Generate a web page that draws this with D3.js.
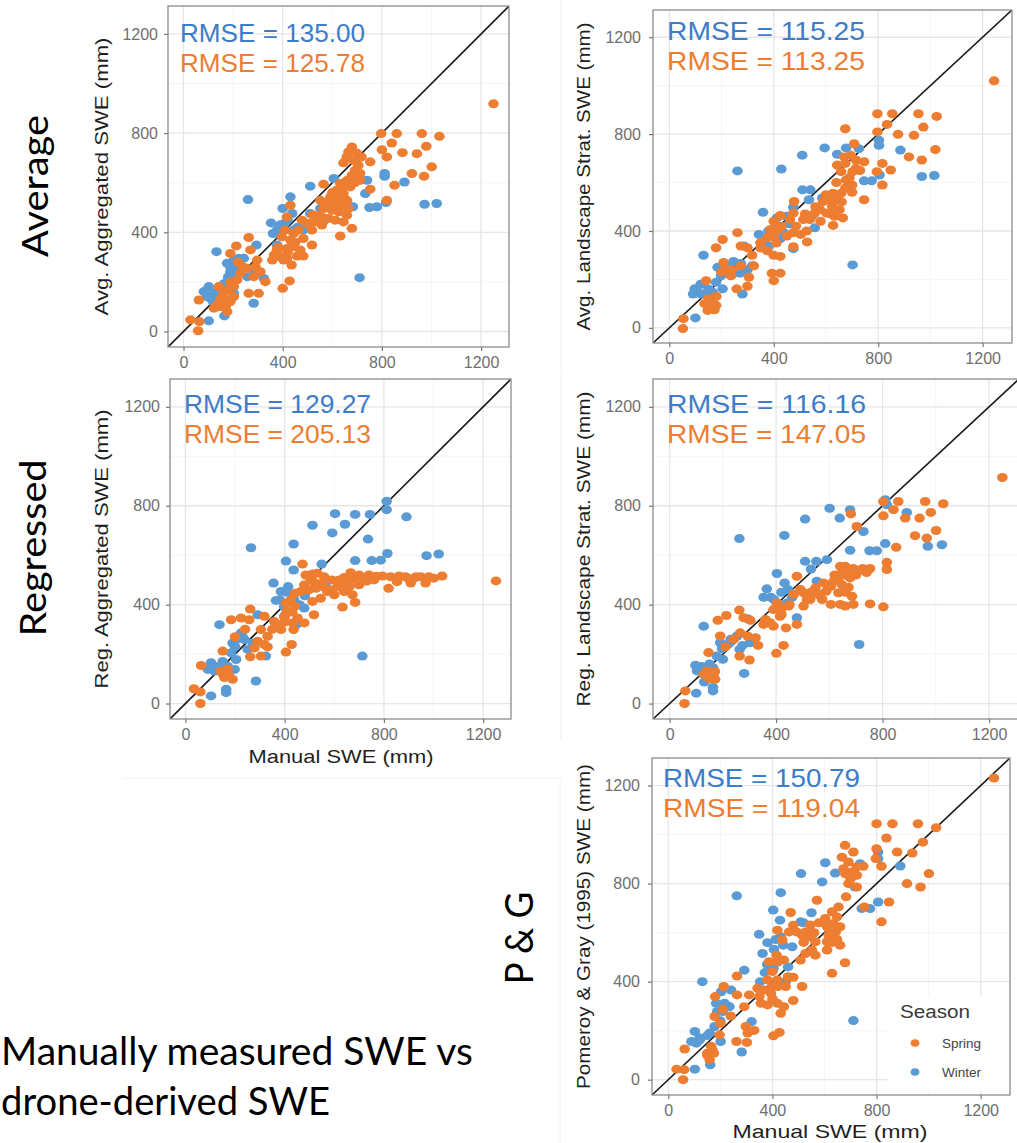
<!DOCTYPE html>
<html>
<head>
<meta charset="utf-8">
<script src="https://cdn.jsdelivr.net/npm/d3@7"></script>
<style>
  body { margin: 0; background: #fff; }
  svg { display: block; }
</style>
</head>
<body>
<svg id="chart"></svg>
<script>
// tick values shared by every panel
var majorTicks = [0, 400, 800, 1200];
var minorTicks = [200, 600, 1000];
var axisDomain = [-62.5, 1312.5];

// RMSE values per panel (Average agg., Average landscape, Regressed agg., Regressed landscape, P & G)
var rmseWinter = ["135.00", "115.25", "129.27", "116.16", "150.79"];
var rmseSpring = ["125.78", "113.25", "205.13", "147.05", "119.04"];

var seasons = ["Spring", "Winter"];

// [manual SWE, estimated SWE] pairs
var avgAggSpring = [[1250,918],[1032,787],[961,798],[860,798],[797,798],[840,760],[979,747],[800,733],[883,721],[941,717],[820,704],[753,684],[1001,664],[921,637],[970,626],[851,590],[753,574],[820,529],
  [679,744],[665,724],[698,720],[718,704],[658,704],[685,690],[645,680],[705,670],[692,650],[712,637],[679,630],[661,610],[712,610],[632,597],[672,583],
  [565,594],[618,570],[645,556],[592,543],[626,536],[659,529],[552,529],[585,516],[612,513],[639,509],[665,496],[565,496],[599,489],[626,483],[659,469],[545,469],[585,456],[612,449],[645,442],[532,442],[558,429],[498,436],[679,416],[632,385],
  [431,509],[417,462],[478,449],[505,436],[518,409],[464,409],[444,396],[410,409],[396,382],[431,369],[483,375],[518,349],[444,342],[417,335],[471,329],[458,304],[483,304],[377,329],[365,308],[390,302],[417,295],[436,268],[404,288],[358,288],
  [400,174],[428,204],
  [263,379],[213,345],[270,329],[297,288],[189,315],[263,154],[303,154],[330,201],[283,221],[310,241],[290,261],[230,235],[257,255],[216,208],[203,181],[176,168],[149,127],[189,121],[176,80],[149,101],[170,101],[136,107],[123,94],[203,141],
  [62,127],[28,47],[59,3],[64,40],[142,181],
  [600,560],[630,520],[570,520],[690,600],[650,600],[700,700],[560,460],[520,470],[600,500],[640,580],[450,360],[380,340],[420,320],[240,260],[220,280],[170,130],[190,200],[160,150]];
var avgAggWinter = [[710,217],[972,513],[1021,516],[891,603],[811,626],[811,637],[817,520],[780,503],[750,500],[740,610],[733,556],[683,503],[639,550],[606,617],[552,496],[511,586],[562,442],[511,476],[482,409],[431,543],[438,476],[400,496],[410,438],[444,409],[353,438],[377,409],[361,395],[377,349],[294,349],[260,532],[133,322],[176,275],[203,288],[189,261],[223,295],[243,295],[210,261],[189,241],[230,248],[257,221],[283,248],[324,214],[165,194],[203,154],[102,181],[123,154],[95,141],[109,134],[82,161],[129,121],[156,141],[283,114],[102,43],[165,63],[149,150],
  [180,220],[150,170],[200,230],[120,120],[220,270],[420,450],[460,420],[390,430]];

var avgLandSpring = [[1244,1020],[797,884],[854,884],[954,884],[1024,873],[834,840],[973,829],[674,822],[797,809],[876,799],[937,795],[708,760],[1019,736],[918,706],[967,693],[816,679],[848,652],[795,645],[816,590],[746,686],[746,529],[695,713],[670,706],[715,693],[674,679],[643,672],[658,645],[702,645],[715,659],[677,611],[700,590],[674,577],[658,556],[627,556],[645,529],[613,529],[624,502],[652,488],[633,461],[665,454],[627,423],[589,522],[577,488],[602,474],[557,474],[538,447],[579,440],[478,522],[475,474],[462,447],[513,447],[485,420],[526,400],[503,386],[475,393],[450,379],[475,335],[528,355],[425,464],[400,440],[387,406],[419,406],[400,376],[375,372],[349,352],[375,318],[400,300],[425,295],[393,226],[425,226],[400,195],[261,393],[204,365],[179,331],[274,338],[299,331],[317,300],[324,256],[305,209],[258,161],[299,172],[208,270],[236,215],[141,195],[160,106],[135,100],[179,93],[147,72],[173,75],[54,38],[52,-3],[217,243],[274,256],
  [690,620],[640,600],[600,550],[560,500],[660,520],[620,470],[520,470],[430,420],[410,350],[350,330],[240,240],[200,230],[180,130],[150,120],[700,560],[730,650]];
var avgLandWinter = [[702,260],[967,625],[1015,629],[885,734],[803,775],[803,754],[805,631],[775,607],[746,607],[726,740],[677,743],[643,717],[595,743],[509,713],[429,656],[261,648],[510,570],[540,570],[586,536],[557,413],[548,465],[535,529],[475,498],[450,461],[438,393],[475,327],[412,454],[359,477],[343,386],[381,338],[400,406],[425,368],[286,338],[246,274],[274,266],[317,256],[242,222],[271,226],[299,240],[185,250],[204,250],[198,215],[204,161],[179,188],[166,147],[131,300],[97,161],[110,147],[91,140],[122,140],[147,147],[158,79],[100,41],[280,140],
  [150,160],[120,180],[200,220],[230,260],[420,420],[460,430],[380,400]];

var regAggSpring = [[1252,496],[794,516],[827,513],[861,516],[887,513],[921,507],[948,513],[981,513],[1001,507],[1035,516],[819,466],[853,493],[968,487],[908,487],[747,513],[720,507],[700,516],[680,503],[666,529],[653,500],[635,487],[661,473],[613,473],[586,460],[640,453],[673,440],[552,487],[559,513],[532,527],[572,453],[545,426],[684,409],[633,390],[512,524],[472,564],[485,520],[506,500],[479,480],[526,466],[498,460],[465,453],[512,413],[441,446],[425,420],[405,406],[441,393],[408,373],[452,346],[479,326],[432,326],[518,359],[398,329],[371,319],[358,332],[436,299],[385,299],[428,239],[405,208],[261,382],[224,346],[184,339],[257,339],[318,353],[304,299],[331,272],[291,252],[318,239],[331,229],[278,225],[261,189],[304,192],[150,212],[174,114],[157,105],[190,98],[63,154],[34,60],[60,47],[60,0],[143,131],[700,480],[730,495],[760,500],[600,440],[620,500],
  [620,480],[640,510],[590,500],[700,520],[740,520],[770,515],[560,470],[520,490],[430,370],[400,350],[350,300],[240,300],[200,270],[170,140],[150,120],[930,513],[900,505]];
var regAggWinter = [[713,192],[1021,605],[972,598],[891,755],[811,818],[811,784],[814,607],[787,580],[751,578],[744,765],[736,665],[684,765],[684,578],[643,725],[603,768],[592,690],[512,721],[549,564],[565,487],[436,645],[405,576],[436,540],[355,487],[385,453],[414,473],[365,417],[398,393],[481,436],[438,420],[447,319],[398,353],[479,386],[291,359],[264,630],[137,319],[324,192],[224,286],[204,259],[190,245],[237,259],[251,219],[271,245],[184,205],[204,178],[198,138],[103,165],[117,131],[90,138],[130,145],[170,151],[284,91],[164,58],[164,44],[103,31],
  [150,170],[120,150],[200,230],[230,270],[410,450],[380,420],[460,400]];

var regLandSpring = [[1250,914],[803,817],[859,817],[960,817],[1028,808],[841,784],[981,773],[939,750],[885,750],[803,759],[681,767],[703,716],[922,679],[1001,700],[966,669],[851,632],[816,571],[816,542],[803,391],[753,546],[726,546],[690,546],[660,555],[641,555],[703,535],[672,535],[647,528],[678,508],[634,508],[616,495],[647,481],[606,474],[634,448],[672,470],[685,434],[578,488],[588,454],[548,468],[573,421],[606,401],[641,401],[660,394],[690,401],[753,403],[528,421],[503,448],[478,515],[491,461],[516,421],[503,394],[466,441],[447,394],[422,387],[403,407],[390,380],[415,353],[378,327],[353,320],[390,313],[437,306],[428,235],[401,203],[478,320],[262,378],[213,356],[181,337],[278,347],[303,337],[265,286],[293,273],[323,266],[332,235],[263,192],[300,176],[146,206],[190,273],[140,132],[165,118],[171,98],[128,118],[59,51],[56,0],
  [620,520],[660,520],[700,520],[720,540],[600,480],[560,440],[530,450],[450,400],[420,360],[360,340],[240,260],[210,230],[170,130],[150,100],[740,530],[660,450]];
var regLandWinter = [[712,239],[970,636],[1023,642],[891,773],[810,824],[816,804],[810,647],[778,618],[751,618],[728,696],[678,620],[678,784],[639,750],[601,790],[509,746],[431,680],[262,667],[509,575],[551,575],[591,582],[531,544],[553,495],[563,441],[478,347],[444,461],[432,488],[403,526],[365,464],[353,430],[392,421],[415,401],[441,407],[293,343],[253,273],[274,235],[302,246],[263,219],[225,246],[190,246],[197,222],[200,179],[177,192],[163,145],[128,313],[97,155],[115,139],[103,132],[130,87],[100,42],[163,65],[163,51],[280,122],
  [150,160],[120,150],[200,230],[230,260],[420,450],[380,430],[460,430]];

var pgSpring = [[1251,1231],[800,1044],[861,1044],[959,1044],[1029,1028],[838,986],[978,969],[879,929],[937,925],[800,942],[797,902],[819,871],[1001,841],[917,800],[969,786],[848,725],[819,644],[679,956],[667,908],[692,888],[711,929],[724,868],[705,847],[673,861],[724,834],[692,800],[724,786],[749,871],[753,705],[683,746],[654,705],[571,732],[679,477],[470,682],[629,685],[648,664],[603,658],[578,640],[546,631],[635,637],[610,624],[660,624],[643,603],[616,590],[648,572],[610,563],[660,549],[565,563],[540,583],[527,603],[493,603],[514,590],[610,529],[552,529],[565,508],[527,515],[508,488],[629,434],[480,630],[464,603],[419,610],[438,570],[416,508],[387,481],[419,481],[444,488],[400,441],[419,407],[451,380],[480,418],[514,380],[381,407],[400,380],[368,366],[394,353],[343,373],[356,312],[381,305],[419,312],[444,298],[480,323],[432,271],[404,179],[427,193],[311,346],[264,423],[213,380],[180,339],[210,287],[264,346],[292,298],[298,217],[305,190],[330,201],[262,156],[302,152],[178,258],[197,183],[165,136],[150,108],[175,108],[159,81],[63,125],[32,43],[61,41],[57,0],
  [620,600],[650,620],[600,640],[560,600],[700,820],[680,840],[520,560],[460,420],[420,380],[400,330],[350,340],[240,260],[200,230],[170,120],[150,100],[630,560]];
var pgWinter = [[711,241],[806,929],[806,902],[891,872],[806,725],[743,698],[775,698],[717,786],[737,881],[603,885],[591,807],[641,843],[510,841],[432,763],[263,750],[403,692],[429,651],[550,681],[508,644],[432,583],[413,572],[381,559],[349,593],[406,532],[362,515],[442,549],[476,542],[556,597],[451,400],[384,447],[371,437],[404,454],[353,400],[131,400],[292,447],[320,237],[282,113],[241,366],[203,359],[184,312],[216,312],[235,298],[209,278],[188,278],[178,217],[201,156],[159,190],[102,197],[89,156],[108,149],[121,163],[161,61],[102,43],
  [150,180],[120,170],[200,240],[230,300],[420,480],[380,470],[460,460],[520,640]];

var W = 1017, H = 1143;
var orange = "#ed7d31", blue = "#5b9bd5";
var orangeText = "#ed7d31", blueText = "#3d7cc9";
var chartFont = "'Liberation Sans', Arial, sans-serif";
var bigFont = "Lato, 'Open Sans', sans-serif";

var svg = d3.select("#chart").attr("width", W).attr("height", H);
svg.append("rect").attr("width", W).attr("height", H).attr("fill", "#fff");

// faint frames of the pasted sub-images
svg.append("line").attr("x1", 561).attr("x2", 561).attr("y1", 0).attr("y2", 370)
   .attr("stroke", "#eeeeee").attr("stroke-width", 1);
svg.append("line").attr("x1", 561).attr("x2", 561).attr("y1", 372).attr("y2", 740)
   .attr("stroke", "#eeeeee").attr("stroke-width", 1);
svg.append("line").attr("x1", 123).attr("x2", 562).attr("y1", 778).attr("y2", 778)
   .attr("stroke", "#f2f2f2").attr("stroke-width", 1);
svg.append("line").attr("x1", 560).attr("x2", 560).attr("y1", 780).attr("y2", H)
   .attr("stroke", "#f2f2f2").attr("stroke-width", 1);

var panels = [
  {x0: 168, x1: 509, y0: 6, y1: 347, spring: avgAggSpring, winter: avgAggWinter,
   ylab: "Avg. Aggregated SWE (mm)", ylabX: 108, ylabLen: 278, tickGap: 10,
   rmseX: 180, rmseY: 42, rmseLen: 185},
  {x0: 653, x1: 1012, y0: 10, y1: 343, spring: avgLandSpring, winter: avgLandWinter,
   ylab: "Avg. Landscape Strat. SWE (mm)", ylabX: 590, ylabLen: 308, tickGap: 12,
   rmseX: 667, rmseY: 40, rmseLen: 198},
  {x0: 170, x1: 511, y0: 379, y1: 719, spring: regAggSpring, winter: regAggWinter,
   ylab: "Reg. Aggregated SWE (mm)", ylabX: 108, ylabLen: 279, tickGap: 10,
   rmseX: 184, rmseY: 413, rmseLen: 187, xlab: {x: 341, y: 763, len: 185}},
  {x0: 653, x1: 1019, y0: 379, y1: 719, spring: regLandSpring, winter: regLandWinter,
   ylab: "Reg. Landscape Strat. SWE (mm)", ylabX: 590, ylabLen: 315, tickGap: 12,
   rmseX: 667, rmseY: 413, rmseLen: 199},
  {x0: 652, x1: 1010, y0: 758, y1: 1095, spring: pgSpring, winter: pgWinter,
   ylab: "Pomeroy & Gray (1995) SWE (mm)", ylabX: 590, ylabLen: 325, tickGap: 12,
   rmseX: 663, rmseY: 787, rmseLen: 197, xlab: {x: 830, y: 1138, len: 195}, legend: true}
];

panels.forEach(function(p, i) {
  var x = d3.scaleLinear().domain(axisDomain).range([p.x0, p.x1]);
  var y = d3.scaleLinear().domain(axisDomain).range([p.y1, p.y0]);
  var g = svg.append("g");
  var clipId = "clip" + i;
  g.append("clipPath").attr("id", clipId).append("rect")
    .attr("x", p.x0).attr("y", p.y0).attr("width", p.x1 - p.x0).attr("height", p.y1 - p.y0);

  // grid
  g.selectAll(".minx").data(minorTicks).enter().append("line")
    .attr("x1", function(d) { return x(d); }).attr("x2", function(d) { return x(d); })
    .attr("y1", p.y0).attr("y2", p.y1).attr("stroke", "#f2f2f2").attr("stroke-width", 0.8);
  g.selectAll(".miny").data(minorTicks).enter().append("line")
    .attr("y1", function(d) { return y(d); }).attr("y2", function(d) { return y(d); })
    .attr("x1", p.x0).attr("x2", p.x1).attr("stroke", "#f2f2f2").attr("stroke-width", 0.8);
  g.selectAll(".majx").data(majorTicks).enter().append("line")
    .attr("x1", function(d) { return x(d); }).attr("x2", function(d) { return x(d); })
    .attr("y1", p.y0).attr("y2", p.y1).attr("stroke", "#e6e6e6").attr("stroke-width", 1.3);
  g.selectAll(".majy").data(majorTicks).enter().append("line")
    .attr("y1", function(d) { return y(d); }).attr("y2", function(d) { return y(d); })
    .attr("x1", p.x0).attr("x2", p.x1).attr("stroke", "#e6e6e6").attr("stroke-width", 1.3);

  // legend box sits over the grid
  if (p.legend) {
    g.append("rect").attr("x", 888).attr("y", 995).attr("width", p.x1 - 889).attr("height", 96)
      .attr("fill", "#fff");
  }

  // 1:1 line
  g.append("line").attr("clip-path", "url(#" + clipId + ")")
    .attr("x1", x(axisDomain[0])).attr("y1", y(axisDomain[0]))
    .attr("x2", x(axisDomain[1])).attr("y2", y(axisDomain[1]))
    .attr("stroke", "#1a1a1a").attr("stroke-width", 1.6);

  // points
  var pts = g.append("g").attr("clip-path", "url(#" + clipId + ")");
  pts.selectAll(".w").data(p.winter).enter().append("ellipse")
    .attr("cx", function(d) { return x(d[0]); }).attr("cy", function(d) { return y(d[1]); })
    .attr("rx", 5.3).attr("ry", 4.5).attr("fill", blue);
  pts.selectAll(".s").data(p.spring).enter().append("ellipse")
    .attr("cx", function(d) { return x(d[0]); }).attr("cy", function(d) { return y(d[1]); })
    .attr("rx", 5.3).attr("ry", 4.5).attr("fill", orange);

  // border
  g.append("rect").attr("x", p.x0).attr("y", p.y0).attr("width", p.x1 - p.x0).attr("height", p.y1 - p.y0)
    .attr("fill", "none").attr("stroke", "#8c8c8c").attr("stroke-width", 1.3);

  // axes
  var yAxis = d3.axisLeft(y).tickValues(majorTicks).tickFormat(d3.format("d")).tickSize(4).tickPadding(p.tickGap - 4);
  var xAxis = d3.axisBottom(x).tickValues(majorTicks).tickFormat(d3.format("d")).tickSize(4).tickPadding(6);
  var ya = g.append("g").attr("transform", "translate(" + p.x0 + ",0)").call(yAxis);
  var xa = g.append("g").attr("transform", "translate(0," + p.y1 + ")").call(xAxis);
  [ya, xa].forEach(function(a) {
    a.select(".domain").remove();
    a.selectAll(".tick line").attr("stroke", "#777").attr("stroke-width", 1.2);
    a.selectAll(".tick text").attr("fill", "#6e6e6e").style("font-family", chartFont).style("font-size", "16px");
  });

  // y axis title
  g.append("text")
    .attr("transform", "translate(" + p.ylabX + "," + ((p.y0 + p.y1) / 2) + ") rotate(-90)")
    .attr("text-anchor", "middle").attr("textLength", p.ylabLen).attr("lengthAdjust", "spacingAndGlyphs")
    .style("font-family", chartFont).style("font-size", "19px").attr("fill", "#1f1f1f")
    .text(p.ylab);

  // x axis title
  if (p.xlab) {
    g.append("text").attr("x", p.xlab.x).attr("y", p.xlab.y).attr("text-anchor", "middle")
      .attr("textLength", p.xlab.len).attr("lengthAdjust", "spacingAndGlyphs")
      .style("font-family", chartFont).style("font-size", "19px").attr("fill", "#1f1f1f")
      .text("Manual SWE (mm)");
  }

  // RMSE annotations
  g.append("text").attr("x", p.rmseX).attr("y", p.rmseY)
    .attr("textLength", p.rmseLen).attr("lengthAdjust", "spacingAndGlyphs")
    .style("font-family", chartFont).style("font-size", "26px").attr("fill", blueText)
    .text("RMSE = " + rmseWinter[i]);
  g.append("text").attr("x", p.rmseX).attr("y", p.rmseY + 30)
    .attr("textLength", p.rmseLen).attr("lengthAdjust", "spacingAndGlyphs")
    .style("font-family", chartFont).style("font-size", "26px").attr("fill", orangeText)
    .text("RMSE = " + rmseSpring[i]);

  if (p.legend) {
    var lg = g.append("g");
    lg.append("text").attr("x", 900).attr("y", 1018).attr("textLength", 70).attr("lengthAdjust", "spacingAndGlyphs")
      .style("font-family", chartFont).style("font-size", "18px").attr("fill", "#3a3a3a").text("Season");
    var keyColor = d3.scaleOrdinal().domain(seasons).range([orange, blue]);
    lg.selectAll(".key").data(seasons).enter().append("ellipse")
      .attr("cx", 915).attr("cy", function(d, k) { return 1043 + k * 29; })
      .attr("rx", 4.4).attr("ry", 3.8).attr("fill", function(d) { return keyColor(d); });
    lg.selectAll(".keylab").data(seasons).enter().append("text")
      .attr("x", 942).attr("y", function(d, k) { return 1048 + k * 29; })
      .style("font-family", chartFont).style("font-size", "13.5px").attr("fill", "#444")
      .text(function(d) { return d; });
  }
});

// row titles
var rowTitles = [
  {t: "Average", x: 48, y: 186, len: 142, size: 36},
  {t: "Regressed", x: 46, y: 548, len: 177, size: 36},
  {t: "P & G", x: 533, y: 938, len: 93, size: 38}
];
svg.selectAll(".row").data(rowTitles).enter().append("text")
  .attr("transform", function(d) { return "translate(" + d.x + "," + d.y + ") rotate(-90)"; })
  .attr("text-anchor", "middle").attr("textLength", function(d) { return d.len; })
  .attr("lengthAdjust", "spacingAndGlyphs")
  .style("font-family", bigFont).style("font-size", function(d) { return d.size + "px"; })
  .attr("fill", "#000").text(function(d) { return d.t; });

// caption
svg.append("text").attr("x", 1).attr("y", 1065).attr("textLength", 472).attr("lengthAdjust", "spacingAndGlyphs")
  .style("font-family", bigFont).style("font-size", "38px").attr("fill", "#000").text("Manually measured SWE vs");
svg.append("text").attr("x", 1).attr("y", 1115).attr("textLength", 329).attr("lengthAdjust", "spacingAndGlyphs")
  .style("font-family", bigFont).style("font-size", "38px").attr("fill", "#000").text("drone-derived SWE");
</script>
</body>
</html>
